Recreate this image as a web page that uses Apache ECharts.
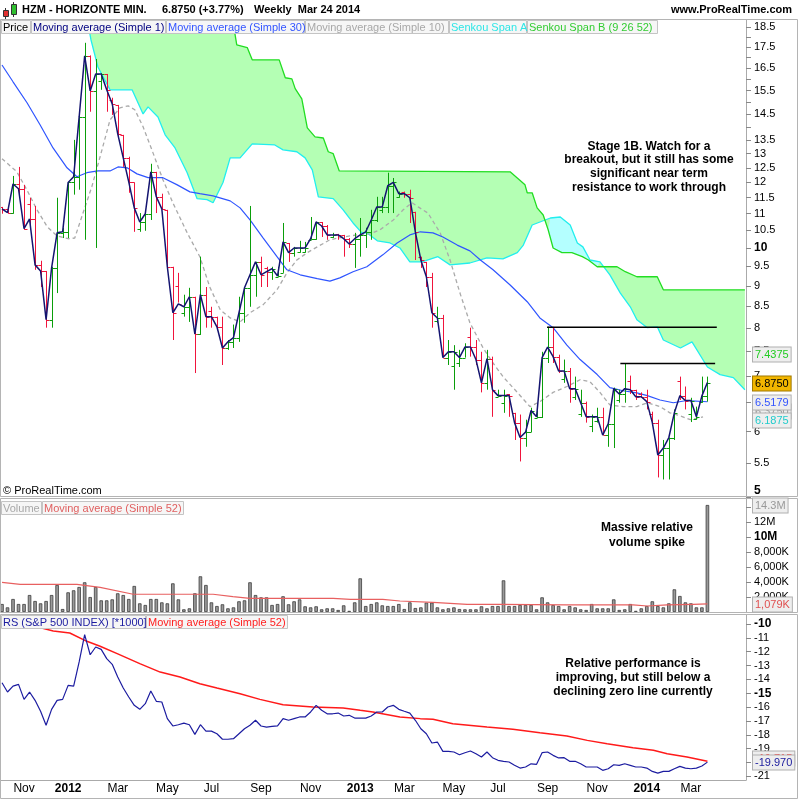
<!DOCTYPE html>
<html>
<head>
<meta charset="utf-8">
<title>HZM - HORIZONTE MIN. weekly</title>
<script src="https://cdn.jsdelivr.net/npm/echarts@6/dist/echarts.min.js"></script>
<style>
  html, body { margin: 0; padding: 0; background: #fff; }
  #chart { width: 800px; height: 800px; }
</style>
</head>
<body>
<div id="chart"></div>
<script>
// weekly bars, first week starts Mon 10 Oct 2011, last is Mar 24 2014
const firstWeek = Date.UTC(2011, 9, 10)

const closes = [11.15, 11.03, 11.95, 11.79, 10.55, 10.84, 9.54, 9.38, 8.19, 9.46,
  10.43, 10.46, 12.0, 12.19, 14.40, 17.07, 15.48, 16.23, 16.23, 15.53,
  14.93, 13.74, 12.85, 12.02, 11.18, 10.75, 11.0, 12.36, 11.53, 11.15,
  9.49, 8.35, 8.56, 8.49, 8.73, 7.87, 8.78, 8.26, 8.26, 8.03,
  7.57, 7.70, 7.79, 8.35, 8.95, 9.28, 9.62, 9.28, 9.36, 9.44,
  9.25, 10.17, 9.87, 10.0, 10.0, 10.0, 10.26, 10.75, 10.63, 10.37,
  10.37, 10.37, 10.26, 10.11, 10.26, 10.37, 10.46, 10.81, 11.21, 11.21,
  11.89, 12.0, 11.63, 11.63, 11.50, 10.46, 9.67, 9.23, 8.35, 8.23,
  7.37, 7.49, 7.49, 7.37, 7.59, 7.59, 7.33, 6.87, 7.35, 6.74,
  6.63, 6.63, 6.63, 6.15, 5.90, 5.99, 6.36, 6.25, 7.37, 7.59,
  7.39, 7.10, 7.10, 6.76, 6.76, 6.50, 6.25, 6.25, 6.25, 5.94,
  6.13, 6.76, 6.66, 6.76, 6.74, 6.61, 6.61, 6.52, 6.15, 5.62,
  5.73, 5.90, 6.32, 6.63, 6.54, 6.54, 6.25, 6.625, 6.875]

const opens = [11.2, 11.15, 11.03, 11.95, 11.79, 11.3, 10.84, 9.54, 9.38, 8.19,
  9.46, 10.43, 10.46, 12.0, 12.19, 14.40, 17.07, 15.48, 15.9, 16.23,
  15.1, 14.89, 13.70, 12.85, 12.0, 10.55, 10.75, 11.0, 12.36, 11.53,
  11.12, 9.49, 9.0, 8.35, 8.49, 8.73, 7.87, 8.78, 8.4, 8.26,
  8.03, 7.57, 7.70, 7.79, 8.35, 8.95, 9.28, 9.62, 9.45, 9.36,
  9.23, 9.33, 10.14, 9.87, 9.9, 9.9, 10.23, 10.26, 10.75, 10.63,
  10.30, 10.40, 10.37, 10.26, 10.11, 10.26, 10.37, 10.46, 10.81, 11.1,
  11.21, 11.89, 11.52, 11.70, 11.63, 11.06, 9.76, 9.62, 9.23, 8.15,
  8.23, 7.37, 7.2, 7.25, 7.37, 7.8, 7.59, 7.33, 6.87, 7.35,
  6.61, 6.5, 6.66, 6.32, 6.15, 5.90, 5.99, 6.23, 6.25, 7.37,
  7.59, 7.39, 6.95, 7.10, 6.6, 6.3, 6.50, 6.1, 6.18, 6.25,
  5.94, 6.13, 6.55, 6.66, 6.9, 6.74, 6.66, 6.61, 6.30, 6.15,
  5.62, 5.73, 5.90, 6.9, 6.63, 6.3, 6.22, 6.52, 6.625]

const highs = [11.21, 11.24, 12.22, 12.53, 11.92, 11.50, 11.24, 9.65, 9.38, 9.49,
  11.50, 10.58, 12.0, 13.51, 14.69, 17.70, 17.09, 16.92, 16.26, 16.23,
  15.19, 14.89, 13.70, 12.89, 12.0, 11.02, 11.02, 12.64, 12.36, 11.63,
  11.12, 9.49, 9.33, 8.78, 8.95, 8.73, 9.76, 8.97, 8.49, 8.26,
  8.26, 7.74, 8.08, 8.73, 8.97, 11.24, 9.62, 9.76, 9.49, 9.49,
  9.49, 10.72, 10.14, 10.03, 10.20, 10.17, 10.90, 10.75, 10.75, 10.66,
  10.43, 10.40, 10.37, 10.28, 10.43, 10.87, 10.58, 11.12, 11.53, 11.53,
  12.33, 12.15, 11.70, 11.70, 11.76, 11.06, 9.76, 9.62, 9.33, 8.49,
  8.30, 7.74, 7.63, 7.53, 7.67, 8.01, 7.74, 7.49, 7.53, 7.39,
  6.74, 6.74, 6.66, 6.32, 6.29, 6.20, 6.41, 6.36, 7.49, 8.03,
  8.03, 7.43, 7.33, 7.16, 6.99, 6.74, 6.52, 6.29, 6.41, 6.41,
  6.16, 6.78, 6.74, 7.26, 7.01, 6.74, 6.69, 6.74, 6.34, 6.20,
  5.86, 5.90, 6.38, 6.99, 6.80, 6.59, 6.43, 6.99, 6.99]

const lows = [11.0, 11.0, 11.0, 11.53, 10.52, 10.52, 9.41, 8.97, 8.01, 8.01,
  8.82, 10.28, 10.28, 11.60, 11.76, 10.23, 14.61, 10.0, 15.53, 14.61,
  14.48, 13.62, 12.53, 11.66, 10.46, 10.46, 10.49, 10.81, 11.02, 11.12,
  9.49, 7.74, 8.59, 8.26, 8.14, 7.06, 7.85, 8.01, 8.01, 7.96,
  7.22, 7.53, 7.57, 7.70, 8.12, 8.49, 8.73, 8.97, 8.97, 9.15,
  9.23, 9.33, 9.62, 9.76, 9.87, 9.87, 10.23, 10.23, 10.31, 10.23,
  10.28, 10.23, 9.76, 10.0, 9.46, 9.76, 10.0, 10.23, 10.75, 11.02,
  11.02, 11.02, 11.50, 11.50, 10.72, 9.67, 9.46, 8.97, 8.01, 8.12,
  7.39, 7.22, 6.74, 7.18, 7.37, 7.39, 7.22, 6.69, 6.74, 6.25,
  6.61, 6.32, 6.25, 5.86, 5.52, 5.75, 5.99, 6.23, 6.23, 7.26,
  7.26, 7.06, 6.87, 6.50, 6.55, 6.25, 6.15, 5.99, 6.15, 5.94,
  5.75, 5.73, 6.50, 6.50, 6.66, 6.55, 6.59, 6.38, 6.15, 5.28,
  5.25, 5.25, 5.86, 6.55, 6.38, 6.16, 6.20, 6.50, 6.52]

// indicator lines as [bar index, value]
const ma30 = [[0, 16.64], [2.0, 15.88], [4.54, 14.98], [6.9, 14.09], [9.26, 13.21], [11.8, 12.50], [13.6, 12.19],
  [15.4, 12.33], [17.4, 12.39], [19.6, 12.39], [21.05, 12.53], [22.7, 12.50], [24.5, 12.29], [26.5, 12.16],
  [29.2, 12.16], [31.8, 11.92], [34.1, 11.69], [35.9, 11.63], [38.3, 11.56], [41.4, 11.40], [43.2, 11.18],
  [45.0, 10.81], [47.4, 10.28], [49.9, 9.76], [51.7, 9.41], [54.1, 9.28], [57.2, 9.18], [59.5, 9.12],
  [61.3, 9.20], [63.7, 9.36], [66.2, 9.49], [69.1, 9.81], [71.7, 10.14], [74.0, 10.37], [75.9, 10.46],
  [78.2, 10.43], [80.0, 10.31], [82.6, 10.08], [84.9, 9.92], [86.8, 9.67], [89.1, 9.41], [92.2, 9.02],
  [95.3, 8.61], [97.6, 8.23], [100.0, 8.01], [102.5, 7.63], [104.9, 7.33], [108.0, 7.03], [110.3, 6.78],
  [112.7, 6.72], [115.2, 6.68], [117.1, 6.63], [119.4, 6.55], [121.8, 6.50], [124.3, 6.54], [128, 6.5179]]

const ma10 = [[0, 12.82], [2.7, 12.36], [4.5, 11.76], [6.35, 11.12], [8.2, 10.61], [10.0, 10.34], [12.0, 10.26],
  [13.2, 10.28], [14.7, 11.02], [16.3, 11.86], [17.8, 12.89], [19.6, 14.28], [21.4, 14.77], [22.9, 14.85],
  [24.1, 14.69], [25.6, 14.01], [27.4, 13.03], [29.2, 12.09], [31.0, 11.34], [33.6, 10.43], [35.9, 9.76],
  [37.7, 8.97], [39.6, 8.42], [41.4, 8.23], [43.2, 8.14], [45.0, 8.35], [47.4, 8.54], [49.9, 8.90],
  [51.7, 9.33], [53.5, 9.67], [55.4, 9.87], [57.2, 10.03], [59.5, 10.23], [61.9, 10.31], [64.4, 10.37],
  [66.8, 10.40], [68.6, 10.52], [71.0, 10.81], [72.8, 11.12], [74.4, 11.34], [75.5, 11.21], [77.3, 11.02],
  [79.5, 10.43], [81.3, 9.67], [83.1, 8.82], [84.9, 8.12], [87.3, 7.57], [89.1, 7.26], [90.9, 6.99],
  [93.5, 6.69], [95.8, 6.43], [97.6, 6.52], [100.0, 6.69], [102.5, 6.80], [104.9, 6.93], [106.7, 6.89],
  [108.5, 6.69], [110.3, 6.46], [112.7, 6.43], [115.2, 6.43], [117.1, 6.50], [119.4, 6.43], [121.2, 6.32],
  [123.0, 6.27], [124.9, 6.20], [127.2, 6.25]]

const spanA = [[15.2, 19.3], [16.15, 17.84], [17.4, 16.55], [19.6, 15.53], [23.6, 15.53], [25.6, 14.52], [26.5, 14.81],
  [28.3, 14.40], [29.6, 13.70], [31.4, 13.21], [33.6, 12.33], [35.4, 11.47], [37.2, 11.44], [38.3, 11.34],
  [40.1, 12.0], [41.4, 12.85], [43.2, 12.85], [45.4, 13.36], [49.5, 13.32], [51.0, 13.14], [53.5, 13.07],
  [55.0, 12.85], [56.3, 12.43], [57.4, 11.53], [60.1, 11.47], [61.9, 11.12], [63.7, 10.72], [65.3, 10.43],
  [66.2, 10.43], [68.1, 10.20], [70.4, 10.14], [72.2, 10.0], [74.0, 9.62], [76.2, 9.62], [79.1, 9.76],
  [81.3, 9.54], [84.9, 9.59], [88.0, 9.73], [90.9, 9.70], [93.5, 9.87], [94.6, 10.08], [96.2, 10.66],
  [99.5, 10.87], [101.3, 10.90], [103.1, 10.66], [104.4, 10.14], [105.4, 10.03], [106.7, 9.67], [108.5, 9.62],
  [110.3, 9.28], [112.2, 8.82], [114.0, 8.49], [115.2, 8.19], [117.1, 8.01], [118.9, 8.03], [120.0, 7.74],
  [123.1, 7.57], [125.2, 7.70], [128.0, 7.18], [130.3, 7.03], [132.7, 6.97], [134.8, 6.74]]

const spanB = [[41.6, 19.3], [42.6, 17.6], [44.5, 17.47], [45.4, 16.88], [50.3, 16.88], [51.4, 16.06], [52.6, 16.01],
  [53.2, 15.58], [54.4, 15.14], [55.4, 13.97], [56.8, 13.62], [58.3, 13.58], [59.2, 13.07], [60.1, 13.00],
  [61.2, 12.39], [92.2, 12.36], [93.5, 12.15], [94.9, 11.92], [95.3, 11.66], [96.2, 11.66], [97.1, 11.18],
  [98.2, 10.96], [99.1, 10.52], [100.0, 10.0], [101.6, 9.87], [103.4, 9.87], [105.3, 9.76], [106.4, 9.67],
  [108.0, 9.49], [111.6, 9.49], [113.1, 9.36], [115.2, 9.23], [118.9, 9.23], [120.0, 8.90], [134.8, 8.90]]

// stretch where span A is above span B (cyan cloud)
const cyanWindow = [98.6, 109.2]

const resistance = [[98.9, 129.7, 8.02], [112.2, 129.4, 7.25]]

// volume in millions
const volumes = [1.07, 0.62, 1.74, 1.07, 1.07, 2.27, 1.47, 1.16, 1.47, 2.27,
  3.61, 0.40, 2.63, 2.9, 3.34, 3.97, 2.0, 3.34, 1.56, 1.56,
  1.69, 2.5, 2.27, 1.74, 3.48, 1.16, 0.94, 1.74, 1.74, 1.29,
  1.16, 3.83, 1.69, 0.36, 0.49, 2.5, 4.77, 3.61, 1.29, 0.80,
  1.03, 0.49, 0.62, 1.43, 1.56, 3.97, 2.27, 1.96, 1.96, 0.94,
  1.07, 2.1, 1.03, 1.43, 1.69, 0.76, 0.62, 0.76, 0.36, 0.49,
  0.49, 0.27, 0.89, 0.15, 1.29, 4.5, 0.80, 1.07, 1.29, 0.89,
  0.80, 0.80, 1.07, 0.40, 1.29, 0.53, 0.62, 1.25, 1.25, 0.62,
  0.36, 0.49, 0.62, 0.40, 0.36, 0.36, 0.36, 0.76, 0.49, 0.80,
  0.80, 4.23, 0.80, 0.80, 0.94, 0.94, 0.94, 0.36, 1.96, 1.29,
  0.94, 0.80, 0.36, 0.80, 0.62, 0.36, 0.27, 1.07, 0.49, 0.49,
  0.49, 1.69, 0.27, 0.36, 1.07, 0.15, 0.49, 0.80, 1.43, 0.80,
  0.62, 1.16, 3.03, 2.14, 1.29, 1.16, 0.62, 0.62, 14.3]

const volMa = [[0, 3.97], [3.3, 3.7], [13.6, 3.7], [17.8, 3.3], [23.8, 2.37], [38.3, 2.37], [41.9, 2.05],
  [45.0, 1.83], [60.1, 1.83], [63.2, 1.69], [69.1, 1.69], [72.2, 1.47], [78.2, 1.29], [84.4, 1.03],
  [90.4, 1.03], [102.5, 0.94], [114.5, 0.94], [117.1, 0.80], [120.7, 0.94], [125.4, 1.03], [128, 1.079]]

// relative strength vs S&P 500 (*1000)
const rs = [-14.24, -14.91, -14.48, -14.36, -15.44, -14.91, -15.51, -16.30, -17.31, -16.16,
  -15.51, -15.44, -14.43, -14.48, -12.74, -10.77, -12.22, -11.66, -11.83, -12.50,
  -12.91, -13.83, -14.62, -15.27, -15.87, -16.16, -15.75, -14.84, -15.58, -15.63,
  -16.83, -17.36, -17.27, -17.15, -17.27, -17.97, -17.27, -17.73, -17.73, -17.92,
  -18.32, -18.32, -18.28, -17.92, -17.56, -17.31, -16.95, -17.36, -17.44, -17.39,
  -17.36, -16.83, -16.95, -16.83, -16.71, -16.71, -16.35, -15.87, -16.23, -16.48,
  -16.48, -16.43, -16.64, -16.59, -16.79, -16.79, -16.79, -16.64, -16.35, -16.35,
  -15.99, -15.87, -16.16, -16.30, -16.43, -16.95, -17.56, -17.92, -18.59, -18.52,
  -19.19, -19.19, -19.24, -19.44, -19.29, -19.17, -19.36, -19.60, -19.24, -19.65,
  -19.84, -19.91, -19.96, -20.20, -20.40, -20.32, -20.09, -20.13, -19.29, -19.24,
  -19.48, -19.67, -19.65, -19.91, -19.91, -20.09, -20.32, -20.32, -20.32, -20.56,
  -20.45, -20.16, -20.20, -20.09, -20.20, -20.32, -20.32, -20.40, -20.64, -20.76,
  -20.64, -20.64, -20.45, -20.28, -20.40, -20.45, -20.40, -20.25, -19.97]

const rsMa = [[0, -9.7], [6.5, -10.22], [9.3, -10.5], [12.3, -10.65], [15.4, -11.25], [17.8, -11.61], [20.9, -12.14],
  [25.0, -12.86], [28.7, -13.47], [32.3, -13.83], [35.9, -14.31], [39.0, -14.62], [43.2, -15.03], [46.8, -15.44],
  [51.0, -15.83], [56.4, -15.99], [61.9, -16.06], [65.0, -16.23], [67.3, -16.35], [72.2, -16.71], [75.9, -16.83],
  [78.2, -16.88], [81.8, -17.20], [88.0, -17.44], [92.7, -17.60], [97.6, -17.85], [102.5, -18.09], [106.2, -18.40],
  [109.8, -18.64], [114.5, -18.93], [118.2, -19.12], [120.7, -19.36], [124.3, -19.60], [128, -19.91]]

// axis ticks and labels
const priceTicks = [5, 5.5, 6, 6.5, 7, 7.5, 8, 8.5, 9, 9.5, 10, 10.5, 11, 11.5, 12, 12.5, 13, 13.5, 14, 14.5,
  15, 15.5, 16, 16.5, 17, 17.5, 18, 18.5]
const priceLabels = [5, 5.5, 6, 6.5, 7, 7.5, 8, 8.5, 9, 9.5, 10, 10.5, 11, 11.5, 12, 12.5, 13, 13.5, 14.5,
  15.5, 16.5, 17.5, 18.5]
const volTicks = [2, 4, 6, 8, 10, 12, 14]
const volLabels = [2, 4, 6, 8, 10, 12]
const rsTicks = [-21, -20, -19, -18, -17, -16, -15, -14, -13, -12, -11, -10]

// last-value tags on the right axis, drawn in this order
const priceTags = [
  [6.36, '6.3750', '#9a9a9a', '#eeeeee'],
  [7.4375, '7.4375', '#22cc22', '#eeeeee'],
  [6.5179, '6.5179', '#3355ff', '#eeeeee'],
  [6.1875, '6.1875', '#22cccc', '#eeeeee'],
  [6.875, '6.8750', '#000000', '#f2b600']
]
const volTags = [[14.3, '14.3M', '#999999', '#eeeeee'], [1.079, '1,079K', '#e05050', '#eeeeee']]
const rsTags = [[-19.7, '-19.715', '#ff2020', '#eeeeee'], [-19.97, '-19.970', '#2020a0', '#eeeeee']]

const FONT = "'Liberation Sans', Arial, Helvetica, sans-serif"
const X_MIN = -0.363
const X_MAX = 135.0

// month labels: first week of every other month
const monthNames = ['Jan', 'Feb', 'Mar', 'Apr', 'May', 'Jun', 'Jul', 'Aug', 'Sep', 'Oct', 'Nov', 'Dec']
const monthTicks = []
const monthText = {}
for (let i = 1; i < closes.length; i++) {
  const d = new Date(firstWeek + i * 7 * 864e5)
  const p = new Date(firstWeek + (i - 1) * 7 * 864e5)
  if (d.getUTCMonth() !== p.getUTCMonth() && d.getUTCMonth() % 2 === 0) {
    monthTicks.push(i)
    monthText[i] = d.getUTCMonth() === 0 ? '{b|' + d.getUTCFullYear() + '}' : monthNames[d.getUTCMonth()]
  }
}

function renderOhlc (params, api) {
  const i = api.value(0)
  const o = api.coord([i, api.value(1)])
  const c = api.coord([i, api.value(2)])
  const lo = api.coord([i, api.value(3)])
  const hi = api.coord([i, api.value(4)])
  const x = Math.round(o[0]) + 0.5
  const yo = Math.round(o[1]) + 0.5
  const yc = Math.round(c[1]) + 0.5
  const style = { stroke: api.value(2) >= api.value(1) ? '#0a9e0a' : '#f0143c', lineWidth: 1 }
  return {
    type: 'group',
    children: [
      { type: 'line', shape: { x1: x, y1: hi[1], x2: x, y2: lo[1] }, style },
      { type: 'line', shape: { x1: x - 3, y1: yo, x2: x, y2: yo }, style },
      { type: 'line', shape: { x1: x, y1: yc, x2: x + 3, y2: yc }, style }
    ]
  }
}

function renderCloud (params, api) {
  const pts = arr => arr.map(p => api.coord(p))
  const inWin = p => p[0] >= cyanWindow[0] && p[0] <= cyanWindow[1]
  const green = pts(spanA).concat(pts(spanB).reverse())
  const cyan = pts(spanA.filter(inWin)).concat(pts(spanB.filter(inWin)).reverse())
  return {
    type: 'group',
    children: [
      { type: 'polygon', shape: { points: green }, style: { fill: '#b4ffb4' } },
      { type: 'polygon', shape: { points: cyan }, style: { fill: '#b4ffff' } }
    ]
  }
}

function lineSeries (name, data, color, width, axis, extra) {
  return Object.assign({
    name: name,
    type: 'line',
    xAxisIndex: axis,
    yAxisIndex: axis,
    data: data,
    symbol: 'none',
    silent: true,
    lineStyle: { color: color, width: width }
  }, extra || {})
}

const chart = echarts.init(document.getElementById('chart'))

const yBase = {
  position: 'right',
  axisLine: { show: true, onZero: false, lineStyle: { color: '#aaaaaa' } },
  splitLine: { show: false }
}

chart.setOption({
  animation: false,
  backgroundColor: '#ffffff',
  textStyle: { fontFamily: FONT },
  grid: [
    { left: 0, top: 20, width: 746, height: 477 },
    { left: 0, top: 499, width: 746, height: 113 },
    { left: 0, top: 615, width: 746, height: 165 }
  ],
  xAxis: [0, 1, 2].map(g => ({
    type: 'value',
    gridIndex: g,
    min: X_MIN,
    max: X_MAX,
    show: g === 2,
    axisLine: { show: true, onZero: false, lineStyle: { color: '#aaaaaa' } },
    axisTick: { show: false },
    splitLine: { show: false },
    axisLabel: {
      customValues: monthTicks,
      formatter: v => monthText[Math.round(v)] || '',
      fontSize: 12,
      color: '#000',
      margin: 3,
      rich: { b: { fontWeight: 'bold', fontSize: 12, color: '#000' } }
    }
  })),
  yAxis: [
    Object.assign({
      type: 'log',
      logBase: 10,
      gridIndex: 0,
      min: 5,
      max: 18.86,
      axisTick: { show: true, customValues: priceTicks, length: 5, lineStyle: { color: '#888' } },
      axisLabel: {
        customValues: priceLabels,
        verticalAlignMinLabel: 'bottom',
        formatter: v => {
          const r = Math.round(v * 10) / 10
          return (r === 10 || r === 5) ? '{b|' + r + '}' : String(r)
        },
        fontSize: 11,
        color: '#000',
        margin: 8,
        rich: { b: { fontWeight: 'bold', fontSize: 12, color: '#000' } }
      }
    }, yBase),
    Object.assign({
      type: 'value',
      gridIndex: 1,
      min: 0,
      max: 15.1,
      axisTick: { show: true, customValues: volTicks, length: 5, lineStyle: { color: '#888' } },
      axisLabel: {
        customValues: volLabels,
        formatter: v => {
          const r = Math.round(v)
          if (r === 10) return '{b|10M}'
          if (r > 10) return r + 'M'
          return r + ',000K'
        },
        fontSize: 11,
        color: '#000',
        margin: 8,
        rich: { b: { fontWeight: 'bold', fontSize: 12, color: '#000' } }
      }
    }, yBase),
    Object.assign({
      type: 'value',
      gridIndex: 2,
      min: -21.26,
      max: -9.35,
      axisTick: { show: true, customValues: rsTicks, length: 5, lineStyle: { color: '#888' } },
      axisLabel: {
        customValues: rsTicks,
        formatter: v => {
          const r = Math.round(v)
          return (r === -10 || r === -15) ? '{b|' + r + '}' : String(r)
        },
        fontSize: 11,
        color: '#000',
        margin: 8,
        rich: { b: { fontWeight: 'bold', fontSize: 12, color: '#000' } }
      }
    }, yBase)
  ],
  series: [
    {
      name: 'Cloud',
      type: 'custom',
      xAxisIndex: 0,
      yAxisIndex: 0,
      clip: true,
      silent: true,
      data: [[0, 10]],
      encode: { x: 0, y: 1 },
      renderItem: renderCloud,
      z: 1
    },
    lineSeries('Senkou Span A', spanA, '#22eeee', 1.3, 0, { z: 2 }),
    lineSeries('Senkou Span B', spanB, '#22dd22', 1.3, 0, { z: 2 }),
    lineSeries('Moving average (Simple 10)', ma10, '#aaaaaa', 1.3, 0, {
      z: 3,
      lineStyle: { color: '#aaaaaa', width: 1.3, type: [4, 3] }
    }),
    lineSeries('Moving average (Simple 30)', ma30, '#2f55ff', 1.2, 0, { z: 3 }),
    {
      name: 'Price',
      type: 'custom',
      xAxisIndex: 0,
      yAxisIndex: 0,
      silent: true,
      data: closes.map((c, i) => [i, opens[i], c, lows[i], highs[i]]),
      encode: { x: 0, y: [1, 2, 3, 4] },
      renderItem: renderOhlc,
      z: 4
    },
    lineSeries('Moving average (Simple 1)', closes.map((c, i) => [i, c]), '#141470', 1.5, 0, { z: 5 }),
    lineSeries('Resistance 1', [[resistance[0][0], resistance[0][2]], [resistance[0][1], resistance[0][2]]], '#000000', 1.5, 0, { z: 6 }),
    lineSeries('Resistance 2', [[resistance[1][0], resistance[1][2]], [resistance[1][1], resistance[1][2]]], '#000000', 1.5, 0, { z: 6 }),
    {
      name: 'Volume',
      type: 'bar',
      xAxisIndex: 1,
      yAxisIndex: 1,
      silent: true,
      barWidth: 3.5,
      data: volumes.map((v, i) => [i, v]),
      itemStyle: { color: '#9a9a9a', borderColor: '#3c3c3c', borderWidth: 0.8 }
    },
    lineSeries('Volume MA 52', volMa, '#e86060', 1.2, 1, { z: 3 }),
    lineSeries('RS MA 52', rsMa, '#ff1a1a', 1.5, 2),
    lineSeries('RS', rs.map((v, i) => [i, v]), '#1c1ca0', 1.2, 2)
  ]
})

// frame, header, legends and notes
const g = []
const txt = (x, y, text, opt) => Object.assign({
  type: 'text', x: x, y: y, z: 120, silent: true,
  style: Object.assign({ text: text, font: '11px ' + FONT, fill: '#000', verticalAlign: 'middle' }, opt || {})
})
g.push({ type: 'rect', z: 100, silent: true, shape: { x: 0, y: 0, width: 800, height: 19 }, style: { fill: '#fff' } })
g.push({ type: 'rect', z: 101, silent: true, shape: { x: 0.5, y: 19.5, width: 797, height: 477 }, style: { fill: 'none', stroke: '#b4b4b4' } })
g.push({ type: 'rect', z: 101, silent: true, shape: { x: 0.5, y: 498.5, width: 797, height: 114 }, style: { fill: 'none', stroke: '#b4b4b4' } })
g.push({ type: 'rect', z: 101, silent: true, shape: { x: 0.5, y: 614.5, width: 797, height: 184 }, style: { fill: 'none', stroke: '#b4b4b4' } })

// little candle icon
g.push({ type: 'line', z: 120, shape: { x1: 5.5, y1: 8, x2: 5.5, y2: 19 }, style: { stroke: '#333', lineWidth: 1 } })
g.push({ type: 'rect', z: 121, shape: { x: 3.5, y: 10.5, width: 5, height: 6 }, style: { fill: '#e03030', stroke: '#333' } })
g.push({ type: 'line', z: 120, shape: { x1: 13.5, y1: 2, x2: 13.5, y2: 17 }, style: { stroke: '#333', lineWidth: 1 } })
g.push({ type: 'rect', z: 121, shape: { x: 11.5, y: 4.5, width: 5, height: 10 }, style: { fill: '#30c030', stroke: '#333' } })

g.push(txt(22, 10, 'HZM - HORIZONTE MIN.', { font: 'bold 11px ' + FONT }))
g.push(txt(162, 10, '6.8750 (+3.77%)', { font: 'bold 11px ' + FONT }))
g.push(txt(254, 10, 'Weekly  Mar 24 2014', { font: 'bold 11px ' + FONT }))
g.push(txt(792, 10, 'www.ProRealTime.com', { font: 'bold 11px ' + FONT, align: 'right' }))
g.push(txt(3, 491, '\u00A9 ProRealTime.com', { font: '11px ' + FONT }))

function legendRow (y, items) {
  items.forEach(it => {
    g.push({ type: 'rect', z: 115, silent: true, shape: { x: it[1] + 0.5, y: y + 0.5, width: it[2] - it[1], height: 13 }, style: { fill: '#f6f6f6', stroke: '#c4c4c4' } })
    g.push(txt(it[1] + 2, y + 7.5, it[0], { fill: it[3] }))
  })
}
legendRow(20, [['Price', 1, 30, '#000000'], ['Moving average (Simple 1)', 31, 165, '#000080'],
  ['Moving average (Simple 30)', 166, 304, '#3355ff'], ['Moving average (Simple 10)', 305, 448, '#a8a8a8'],
  ['Senkou Span A', 449, 526, '#2ee6e6'], ['Senkou Span B (9 26 52)', 527, 657, '#33cc33']])
legendRow(501, [['Volume', 1, 41, '#a8a8a8'], ['Moving average (Simple 52)', 42, 183, '#e06060']])
legendRow(615, [['RS (S&P 500 INDEX) [*1000]', 1, 145, '#1c1ca0'], ['Moving average (Simple 52)', 146, 287, '#ff2020']])

const note = (x, y, text, lh) => txt(x, y, text, { font: 'bold 12px ' + FONT, align: 'center', lineHeight: lh })
g.push(note(649, 167, 'Stage 1B. Watch for a\nbreakout, but it still has some\nsignificant near term\nresistance to work through', 13.7))
g.push(note(647, 535.5, 'Massive relative\nvolume spike', 15))
g.push(note(633, 678, 'Relative performance is\nimproving, but still below a\ndeclining zero line currently', 14))

function tags (axis, list) {
  list.forEach(t => {
    const y = chart.convertToPixel({ yAxisIndex: axis }, t[0])
    g.push(txt(753, Math.round(y) + 0.5, t[1], {
      fill: t[2], backgroundColor: t[3], borderColor: t[3] === '#eeeeee' ? '#b0b0b0' : '#a07800',
      borderWidth: 1, padding: [2, 2, 1, 2]
    }))
  })
}
tags(0, priceTags)
tags(1, volTags)
tags(2, rsTags)

chart.setOption({ graphic: g })
</script>
</body>
</html>
